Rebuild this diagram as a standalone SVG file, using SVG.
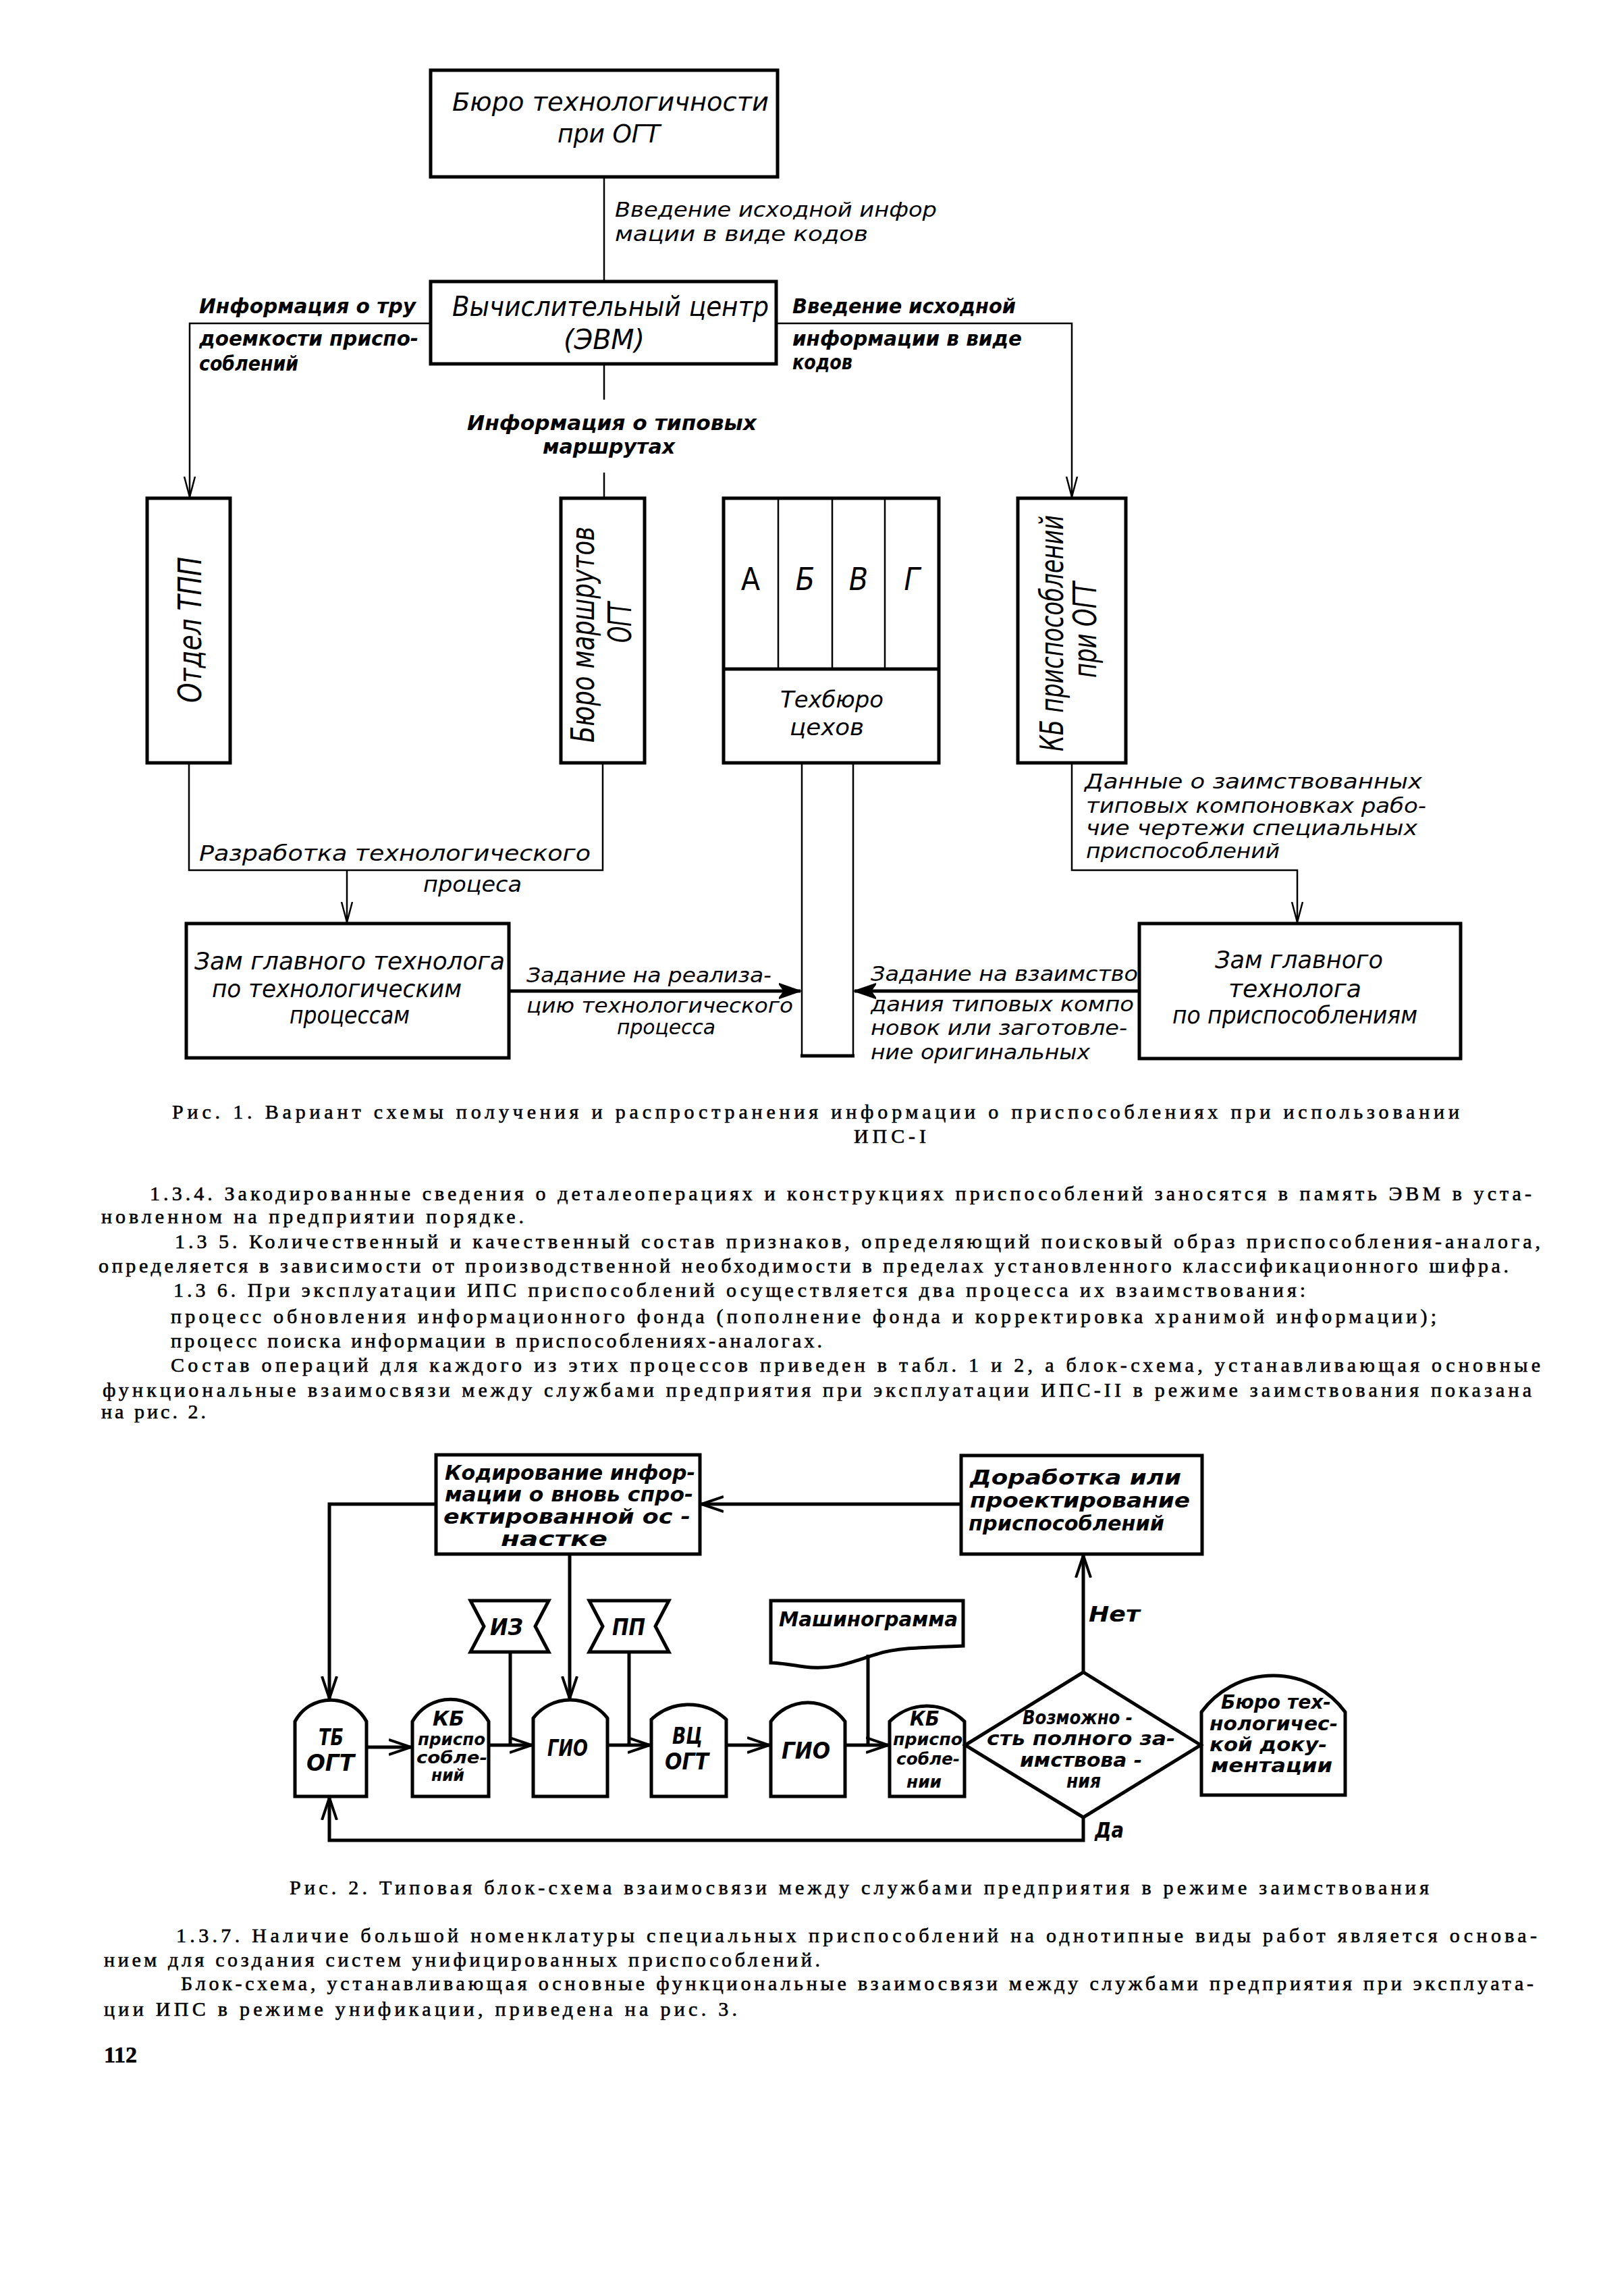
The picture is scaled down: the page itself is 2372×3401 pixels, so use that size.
<svg xmlns="http://www.w3.org/2000/svg" width="2372" height="3401" viewBox="0 0 2372 3401">
<defs>
<style>
.box{fill:none;stroke:#000;stroke-width:5}
.ln{fill:none;stroke:#000;stroke-width:2.5}
.lnb{fill:none;stroke:#000;stroke-width:5}
.t1{font-family:"DejaVu Sans Condensed","DejaVu Sans",sans-serif;font-style:italic;font-size:38px;fill:#000}
.lb{font-family:"DejaVu Sans Condensed","DejaVu Sans",sans-serif;font-style:italic;font-size:30px;fill:#000}
.lbb{font-family:"DejaVu Sans Condensed","DejaVu Sans",sans-serif;font-style:italic;font-weight:bold;font-size:30px;fill:#000}
.rt{font-family:"DejaVu Sans Condensed","DejaVu Sans",sans-serif;font-style:italic;font-size:48px;fill:#000}
.t2{font-family:"DejaVu Sans","Liberation Sans",sans-serif;font-style:italic;font-weight:bold;font-size:30px;fill:#000}
.t3{font-family:"DejaVu Sans","Liberation Sans",sans-serif;font-style:italic;font-weight:bold;font-size:29px;fill:#000}
.t4{font-family:"DejaVu Sans","Liberation Sans",sans-serif;font-style:italic;font-weight:bold;font-size:34px;fill:#000}
.t5{font-family:"DejaVu Sans","Liberation Sans",sans-serif;font-style:italic;font-weight:bold;font-size:25px;fill:#000}
.body{font-family:"Liberation Serif","DejaVu Serif",serif;font-size:30px;fill:#000;stroke:#000;stroke-width:0.6}
</style>
<marker id="aThin" markerUnits="userSpaceOnUse" markerWidth="32" markerHeight="20" refX="30" refY="9" orient="auto">
<path d="M0,1 L30,9 L0,17" fill="none" stroke="#000" stroke-width="2.5"/>
</marker>
<marker id="aBold" markerUnits="userSpaceOnUse" markerWidth="34" markerHeight="24" refX="32" refY="12" orient="auto">
<path d="M0,1 L32,12 L0,23 L8,12 Z" fill="#000" stroke="#000" stroke-width="2"/>
</marker>
<marker id="a2" markerUnits="userSpaceOnUse" markerWidth="36" markerHeight="26" refX="33" refY="13" orient="auto">
<path d="M0,2 L33,13 L0,24" fill="none" stroke="#000" stroke-width="4"/>
</marker>
</defs>
<rect width="2372" height="3401" fill="#fff"/>

<!-- ============ FIGURE 1 ============ -->
<g id="fig1-connectors">
<path class="ln" d="M895,262 V417"/>
<path class="ln" d="M638,479 H281 V736" marker-end="url(#aThin)"/>
<path class="ln" d="M1150,479 H1588 V736" marker-end="url(#aThin)"/>
<path class="ln" d="M895,539 V592"/>
<path class="ln" d="M895,700 V738"/>
<path class="ln" d="M280,1130 V1289 H893 V1130"/>
<path class="ln" d="M514,1289 V1366" marker-end="url(#aThin)"/>
<path class="lnb" d="M754,1468 H1186" marker-end="url(#aBold)"/>
<path class="lnb" d="M1688,1468 H1266" marker-end="url(#aBold)"/>
<path class="ln" d="M1588,1130 V1289 H1922 V1366" marker-end="url(#aThin)"/>
</g>

<g id="n-buro-tech">
<rect class="box" x="638" y="104" width="514" height="158"/>
<text class="t1" x="670" y="164" textLength="469" lengthAdjust="spacingAndGlyphs">Бюро технологичности</text>
<text class="t1" x="826" y="211" textLength="152" lengthAdjust="spacingAndGlyphs">при ОГТ</text>
</g>
<g id="lbl-vvod1">
<text class="lb" x="911" y="321" textLength="477" lengthAdjust="spacingAndGlyphs">Введение исходной инфор</text>
<text class="lb" x="911" y="357" textLength="375" lengthAdjust="spacingAndGlyphs">мации в виде кодов</text>
</g>
<g id="n-evm">
<rect class="box" x="638" y="417" width="512" height="122"/>
<text class="t1" style="font-size:40px" x="670" y="468" textLength="469" lengthAdjust="spacingAndGlyphs">Вычислительный центр</text>
<text class="t1" style="font-size:40px" x="835" y="517" textLength="120" lengthAdjust="spacingAndGlyphs">(ЭВМ)</text>
</g>
<g id="lbl-trud">
<text class="lbb" x="295" y="464" textLength="321" lengthAdjust="spacingAndGlyphs">Информация о тру</text>
<text class="lbb" x="295" y="512" textLength="325" lengthAdjust="spacingAndGlyphs">доемкости приспо-</text>
<text class="lbb" x="295" y="549" textLength="147" lengthAdjust="spacingAndGlyphs">соблений</text>
</g>
<g id="lbl-vvod2">
<text class="lbb" x="1174" y="464" textLength="331" lengthAdjust="spacingAndGlyphs">Введение исходной</text>
<text class="lbb" x="1174" y="512" textLength="340" lengthAdjust="spacingAndGlyphs">информации в виде</text>
<text class="lbb" x="1174" y="547" textLength="89" lengthAdjust="spacingAndGlyphs">кодов</text>
</g>
<g id="lbl-tip">
<text class="lbb" x="692" y="637" textLength="429" lengthAdjust="spacingAndGlyphs">Информация о типовых</text>
<text class="lbb" x="804" y="672" textLength="196" lengthAdjust="spacingAndGlyphs">маршрутах</text>
</g>

<g id="n-otdel-tpp">
<rect class="box" x="218" y="738" width="123" height="392"/>
<text class="rt" transform="translate(298,933) rotate(-90)" x="-108" y="0" textLength="216" lengthAdjust="spacingAndGlyphs">Отдел ТПП</text>
</g>
<g id="n-buro-marsh">
<rect class="box" x="831" y="738" width="124" height="392"/>
<text class="rt" transform="translate(880,940) rotate(-90)" x="-160" y="0" textLength="320" lengthAdjust="spacingAndGlyphs">Бюро маршрутов</text>
<text class="rt" transform="translate(935,922) rotate(-90)" x="-30" y="0" textLength="60" lengthAdjust="spacingAndGlyphs">ОГТ</text>
</g>
<g id="n-techburo">
<rect class="box" x="1072" y="738" width="319" height="392"/>
<path class="ln" d="M1153,738 V991 M1233,738 V991 M1311,738 V991"/>
<path class="lnb" d="M1072,991 H1391"/>
<text class="t1" style="font-size:46px;font-style:normal" x="1112" y="874" text-anchor="middle">А</text>
<text class="t1" style="font-size:46px" x="1193" y="874" text-anchor="middle">Б</text>
<text class="t1" style="font-size:46px" x="1272" y="874" text-anchor="middle">В</text>
<text class="t1" style="font-size:46px" x="1351" y="874" text-anchor="middle">Г</text>
<text class="lb" style="font-size:34px" x="1156" y="1048" textLength="153" lengthAdjust="spacingAndGlyphs">Техбюро</text>
<text class="lb" style="font-size:34px" x="1170" y="1089" textLength="110" lengthAdjust="spacingAndGlyphs">цехов</text>
<path class="ln" d="M1188,1130 V1564 M1264,1130 V1564"/>
<path class="lnb" d="M1186,1564 H1266"/>
</g>
<g id="n-kb-ogt">
<rect class="box" x="1508" y="738" width="160" height="392"/>
<text class="rt" transform="translate(1575,938) rotate(-90)" x="-175" y="0" textLength="350" lengthAdjust="spacingAndGlyphs">КБ приспособлений</text>
<text class="rt" transform="translate(1624,933) rotate(-90)" x="-71" y="0" textLength="142" lengthAdjust="spacingAndGlyphs">при ОГТ</text>
</g>

<g id="lbl-razrab">
<text class="lb" style="font-size:32px" x="295" y="1275" textLength="580" lengthAdjust="spacingAndGlyphs">Разработка технологического</text>
<text class="lb" style="font-size:32px" x="627" y="1321" textLength="146" lengthAdjust="spacingAndGlyphs">процеса</text>
</g>
<g id="lbl-dannye">
<text class="lb" x="1607" y="1168" textLength="500" lengthAdjust="spacingAndGlyphs">Данные о заимствованных</text>
<text class="lb" x="1609" y="1204" textLength="504" lengthAdjust="spacingAndGlyphs">типовых компоновках рабо-</text>
<text class="lb" x="1609" y="1237" textLength="491" lengthAdjust="spacingAndGlyphs">чие чертежи специальных</text>
<text class="lb" x="1609" y="1271" textLength="287" lengthAdjust="spacingAndGlyphs">приспособлений</text>
</g>

<g id="n-zam-tech">
<rect class="box" x="276" y="1368" width="478" height="199"/>
<text class="t1" style="font-size:35px" x="288" y="1436" textLength="460" lengthAdjust="spacingAndGlyphs">Зам главного технолога</text>
<text class="t1" style="font-size:35px" x="314" y="1477" textLength="370" lengthAdjust="spacingAndGlyphs">по технологическим</text>
<text class="t1" style="font-size:35px" x="429" y="1516" textLength="178" lengthAdjust="spacingAndGlyphs">процессам</text>
</g>
<g id="lbl-zad1">
<text class="lb" x="780" y="1455" textLength="363" lengthAdjust="spacingAndGlyphs">Задание на реализа-</text>
<text class="lb" x="780" y="1500" textLength="395" lengthAdjust="spacingAndGlyphs">цию технологического</text>
<text class="lb" x="914" y="1532" textLength="146" lengthAdjust="spacingAndGlyphs">процесса</text>
</g>
<g id="lbl-zad2">
<text class="lb" x="1290" y="1453" textLength="396" lengthAdjust="spacingAndGlyphs">Задание на взаимство</text>
<text class="lb" x="1290" y="1498" textLength="390" lengthAdjust="spacingAndGlyphs">дания типовых компо</text>
<text class="lb" x="1290" y="1533" textLength="380" lengthAdjust="spacingAndGlyphs">новок или заготовле-</text>
<text class="lb" x="1290" y="1569" textLength="325" lengthAdjust="spacingAndGlyphs">ние оригинальных</text>
</g>
<g id="n-zam-prisp">
<rect class="box" x="1688" y="1368" width="476" height="200"/>
<text class="t1" style="font-size:35px" x="1800" y="1434" textLength="249" lengthAdjust="spacingAndGlyphs">Зам главного</text>
<text class="t1" style="font-size:35px" x="1820" y="1477" textLength="197" lengthAdjust="spacingAndGlyphs">технолога</text>
<text class="t1" style="font-size:35px" x="1737" y="1516" textLength="363" lengthAdjust="spacingAndGlyphs">по приспособлениям</text>
</g>

<!-- ============ TEXT ============ -->
<g id="text-block-1">
<text class="body" x="255" y="1657" textLength="1907" lengthAdjust="spacing">Рис. 1. Вариант схемы получения и распространения информации о приспособлениях при использовании</text>
<text class="body" x="1265" y="1693" textLength="107" lengthAdjust="spacing">ИПС-I</text>
<text class="body" x="222" y="1778" textLength="2047" lengthAdjust="spacing">1.3.4. Закодированные сведения о деталеоперациях и конструкциях приспособлений заносятся в память ЭВМ в уста-</text>
<text class="body" x="150" y="1812" textLength="626" lengthAdjust="spacing">новленном на предприятии порядке.</text>
<text class="body" x="259" y="1849" textLength="2023" lengthAdjust="spacing">1.3 5. Количественный и качественный состав признаков, определяющий поисковый образ приспособления-аналога,</text>
<text class="body" x="146" y="1885" textLength="2089" lengthAdjust="spacing">определяется в зависимости от производственной необходимости в пределах установленного классификационного шифра.</text>
<text class="body" x="257" y="1921" textLength="1677" lengthAdjust="spacing">1.3 6. При эксплуатации ИПС приспособлений осуществляется два процесса их взаимствования:</text>
<text class="body" x="253" y="1960" textLength="1875" lengthAdjust="spacing">процесс обновления информационного фонда (пополнение фонда и корректировка хранимой информации);</text>
<text class="body" x="253" y="1996" textLength="965" lengthAdjust="spacing">процесс поиска информации в приспособлениях-аналогах.</text>
<text class="body" x="253" y="2032" textLength="2029" lengthAdjust="spacing">Состав операций для каждого из этих процессов приведен в табл. 1 и 2, а блок-схема, устанавливающая основные</text>
<text class="body" x="152" y="2069" textLength="2117" lengthAdjust="spacing">функциональные взаимосвязи между службами предприятия при эксплуатации ИПС-II в режиме заимствования показана</text>
<text class="body" x="150" y="2101" textLength="155" lengthAdjust="spacing">на рис. 2.</text>
</g>

<!-- ============ FIGURE 2 ============ -->
<g id="fig2-connectors">
<path class="lnb" d="M1424,2228 H1039" marker-end="url(#a2)"/>
<path class="lnb" d="M646,2228 H488 V2516" marker-end="url(#a2)"/>
<path class="lnb" d="M844,2302 V2516" marker-end="url(#a2)"/>
<path class="lnb" d="M543,2588 H609" marker-end="url(#a2)"/>
<path class="lnb" d="M724,2585 H788" marker-end="url(#a2)"/>
<path class="lnb" d="M756,2447 V2585"/>
<path class="lnb" d="M900,2585 H963" marker-end="url(#a2)"/>
<path class="lnb" d="M932,2447 V2585"/>
<path class="lnb" d="M1076,2585 H1140" marker-end="url(#a2)"/>
<path class="lnb" d="M1252,2585 H1316" marker-end="url(#a2)"/>
<path class="lnb" d="M1286,2451 V2585"/>
<path class="lnb" d="M1605,2477 V2304" marker-end="url(#a2)"/>
<path class="lnb" d="M1605,2692 V2726 H488 V2663" marker-end="url(#a2)"/>
<text class="t3" style="font-size:32px" x="1613" y="2402" textLength="76" lengthAdjust="spacingAndGlyphs">Нет</text>
<text class="t3" style="font-size:32px" x="1622" y="2722" textLength="43" lengthAdjust="spacingAndGlyphs">Да</text>
</g>

<g id="n-kodir">
<rect class="box" x="646" y="2155" width="391" height="147"/>
<text class="t2" x="659" y="2192" textLength="371" lengthAdjust="spacingAndGlyphs">Кодирование инфор-</text>
<text class="t2" x="659" y="2224" textLength="368" lengthAdjust="spacingAndGlyphs">мации о вновь спро-</text>
<text class="t2" x="657" y="2257" textLength="366" lengthAdjust="spacingAndGlyphs">ектированной ос -</text>
<text class="t2" x="742" y="2290" textLength="158" lengthAdjust="spacingAndGlyphs">настке</text>
</g>
<g id="n-dorab">
<rect class="box" x="1424" y="2156" width="357" height="146"/>
<text class="t2" x="1437" y="2199" textLength="313" lengthAdjust="spacingAndGlyphs">Доработка или</text>
<text class="t2" x="1437" y="2233" textLength="326" lengthAdjust="spacingAndGlyphs">проектирование</text>
<text class="t2" x="1435" y="2267" textLength="290" lengthAdjust="spacingAndGlyphs">приспособлений</text>
</g>
<g id="n-iz">
<polygon class="box" points="697,2371 813,2371 793,2409 813,2447 697,2447 717,2409"/>
<text class="t4" x="726" y="2422" textLength="49" lengthAdjust="spacingAndGlyphs">ИЗ</text>
</g>
<g id="n-pp">
<polygon class="box" points="873,2371 991,2371 971,2409 991,2447 873,2447 893,2409"/>
<text class="t4" x="907" y="2422" textLength="49" lengthAdjust="spacingAndGlyphs">ПП</text>
</g>
<g id="n-mashinogramma">
<path class="box" d="M1142,2371 H1427 V2438 C1380,2440 1330,2440 1300,2450 C1270,2458 1240,2475 1192,2469 C1170,2466 1155,2463 1142,2463 Z"/>
<text class="t3" style="font-size:31px" x="1154" y="2409" textLength="265" lengthAdjust="spacingAndGlyphs">Машинограмма</text>
</g>
<g id="n-tb-ogt">
<path class="box" d="M437,2661 V2550 A60,60 0 0 1 543,2550 V2661 Z"/>
<text class="t4" x="472" y="2585" textLength="37" lengthAdjust="spacingAndGlyphs">ТБ</text>
<text class="t4" x="454" y="2623" textLength="71" lengthAdjust="spacingAndGlyphs">ОГТ</text>
</g>
<g id="n-kb1">
<path class="box" d="M611,2661 V2550 A65,65 0 0 1 724,2550 V2661 Z"/>
<text class="t3" style="font-size:30px" x="641" y="2556" textLength="47" lengthAdjust="spacingAndGlyphs">КБ</text>
<text class="t5" x="619" y="2585" textLength="100" lengthAdjust="spacingAndGlyphs">приспо</text>
<text class="t5" x="617" y="2612" textLength="105" lengthAdjust="spacingAndGlyphs">собле-</text>
<text class="t5" x="639" y="2638" textLength="49" lengthAdjust="spacingAndGlyphs">ний</text>
</g>
<g id="n-gio1">
<path class="box" d="M790,2661 V2545 A69.5,69.5 0 0 1 900,2545 V2661 Z"/>
<text class="t4" x="811" y="2601" textLength="60" lengthAdjust="spacingAndGlyphs">ГИО</text>
</g>
<g id="n-vc-ogt">
<path class="box" d="M965,2661 V2547 A81,81 0 0 1 1076,2547 V2661 Z"/>
<text class="t4" x="996" y="2583" textLength="45" lengthAdjust="spacingAndGlyphs">ВЦ</text>
<text class="t4" x="985" y="2621" textLength="65" lengthAdjust="spacingAndGlyphs">ОГТ</text>
</g>
<g id="n-gio2">
<path class="box" d="M1142,2661 V2550 A68,68 0 0 1 1252,2550 V2661 Z"/>
<text class="t4" x="1158" y="2605" textLength="72" lengthAdjust="spacingAndGlyphs">ГИО</text>
</g>
<g id="n-kb2">
<path class="box" d="M1318,2661 V2550 A78.5,78.5 0 0 1 1429,2550 V2661 Z"/>
<text class="t3" style="font-size:30px" x="1348" y="2556" textLength="44" lengthAdjust="spacingAndGlyphs">КБ</text>
<text class="t5" x="1323" y="2585" textLength="103" lengthAdjust="spacingAndGlyphs">приспо</text>
<text class="t5" x="1328" y="2614" textLength="94" lengthAdjust="spacingAndGlyphs">собле-</text>
<text class="t5" x="1343" y="2648" textLength="52" lengthAdjust="spacingAndGlyphs">нии</text>
</g>
<g id="n-decision">
<polygon class="box" points="1430,2585 1605,2477 1779,2585 1605,2692"/>
<text class="t3" x="1515" y="2554" textLength="163" lengthAdjust="spacingAndGlyphs">Возможно -</text>
<text class="t3" x="1462" y="2585" textLength="279" lengthAdjust="spacingAndGlyphs">сть полного за-</text>
<text class="t3" x="1511" y="2617" textLength="181" lengthAdjust="spacingAndGlyphs">имствова -</text>
<text class="t3" x="1580" y="2648" textLength="51" lengthAdjust="spacingAndGlyphs">ния</text>
</g>
<g id="n-buro-doc">
<path class="box" d="M1780,2659 V2536 A132,132 0 0 1 1993,2536 V2659 Z"/>
<text class="t3" style="font-size:28px" x="1809" y="2531" textLength="163" lengthAdjust="spacingAndGlyphs">Бюро тех-</text>
<text class="t3" style="font-size:28px" x="1792" y="2563" textLength="190" lengthAdjust="spacingAndGlyphs">нологичес-</text>
<text class="t3" style="font-size:28px" x="1792" y="2594" textLength="174" lengthAdjust="spacingAndGlyphs">кой доку-</text>
<text class="t3" style="font-size:28px" x="1794" y="2625" textLength="180" lengthAdjust="spacingAndGlyphs">ментации</text>
</g>

<g id="text-block-2">
<text class="body" x="429" y="2806" textLength="1688" lengthAdjust="spacing">Рис. 2. Типовая блок-схема взаимосвязи между службами предприятия в режиме заимствования</text>
<text class="body" x="261" y="2877" textLength="2016" lengthAdjust="spacing">1.3.7. Наличие большой номенклатуры специальных приспособлений на однотипные виды работ является основа-</text>
<text class="body" x="154" y="2913" textLength="1061" lengthAdjust="spacing">нием для создания систем унифицированных приспособлений.</text>
<text class="body" x="268" y="2948" textLength="2004" lengthAdjust="spacing">Блок-схема, устанавливающая основные функциональные взаимосвязи между службами предприятия при эксплуата-</text>
<text class="body" x="154" y="2986" textLength="938" lengthAdjust="spacing">ции ИПС в режиме унификации, приведена на рис. 3.</text>
<text class="body" style="font-size:34px;font-weight:bold" x="154" y="3055">112</text>
</g>
</svg>
